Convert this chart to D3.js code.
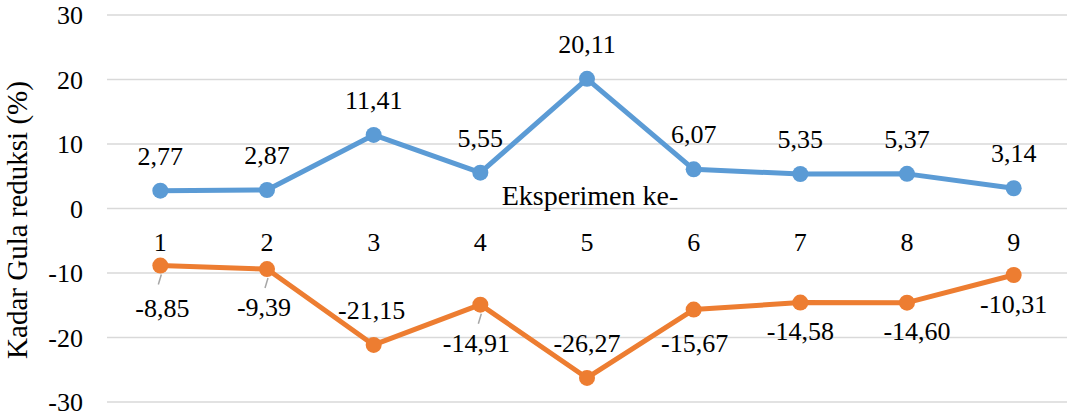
<!DOCTYPE html>
<html>
<head>
<meta charset="utf-8">
<script src="https://cdn.jsdelivr.net/npm/d3@7"></script>
<style>
  body { margin: 0; background: #fff; }
</style>
</head>
<body>
<svg id="chart" width="1092" height="416" font-family="'Liberation Serif', 'DejaVu Serif', serif"></svg>
<script>

var experiments = ["1", "2", "3", "4", "5", "6", "7", "8", "9"]
var increase = [2.77, 2.87, 11.41, 5.55, 20.11, 6.07, 5.35, 5.37, 3.14]
var decrease = [-8.85, -9.39, -21.15, -14.91, -26.27, -15.67, -14.58, -14.60, -10.31]
var yTicks = [-30, -20, -10, 0, 10, 20, 30]

// hand-moved label offsets for the orange series (px from the marker), as in the original
var decreaseLabelDx = [2, -3, -2, -4, 0, 1, 0, 10, 0]
var decreaseLabelDy = [42, 38, -35, 38, -35, 33, 28, 28, 29]
var decreaseLeader = [true, true, false, true, false, false, false, false, false]

var svg = d3.select("#chart")
// note: "top" is taken by window.top, so use plot_* names
var plot_left = 107, plot_right = 1067, plot_top = 15, plot_bottom = 402

var x = d3.scaleBand().domain(experiments).range([plot_left, plot_right])
var y = d3.scaleLinear().domain([-30, 30]).range([plot_bottom, plot_top])
var cx = function(d, i){ return x(experiments[i]) + x.bandwidth() / 2 }

// gridlines
svg.append("g").selectAll("line")
    .data(yTicks)
  .enter().append("line")
    .attr("x1", plot_left).attr("x2", plot_right)
    .attr("y1", function(d){ return y(d) }).attr("y2", function(d){ return y(d) })
    .style("stroke", "#d9d9d9").style("stroke-width", 1.5)

// y axis labels
svg.append("g").selectAll("text")
    .data(yTicks)
  .enter().append("text")
    .attr("x", 83).attr("y", function(d){ return y(d) })
    .attr("dy", "0.35em")
    .attr("text-anchor", "end")
    .style("font-size", "26px")
    .text(function(d){ return d })

// category labels sit just under the zero line
svg.append("g").selectAll("text")
    .data(experiments)
  .enter().append("text")
    .attr("x", function(d){ return x(d) + x.bandwidth() / 2 })
    .attr("y", y(0) + 33)
    .attr("dy", "0.35em")
    .attr("text-anchor", "middle")
    .style("font-size", "26px")
    .text(function(d){ return d })

svg.append("text")
    .attr("x", 590).attr("y", 205)
    .attr("text-anchor", "middle")
    .style("font-size", "28px")
    .text("Eksperimen ke-")

svg.append("text")
    .attr("transform", "translate(27,220) rotate(-90)")
    .attr("text-anchor", "middle")
    .style("font-size", "29px")
    .text("Kadar Gula reduksi (%)")

var fmt = function(v){ return v.toFixed(2).replace(".", ",") }

function drawSeries(values, color){
  var line = d3.line()
      .x(cx)
      .y(function(d){ return y(d) })
  svg.append("path")
      .datum(values)
      .attr("d", line)
      .style("fill", "none")
      .style("stroke", color)
      .style("stroke-width", 5)
      .style("stroke-linejoin", "round")
  svg.append("g").selectAll("circle")
      .data(values)
    .enter().append("circle")
      .attr("cx", cx)
      .attr("cy", function(d){ return y(d) })
      .attr("r", 8)
      .style("fill", color)
}

drawSeries(increase, "#5b9bd5")
drawSeries(decrease, "#ed7d31")

// leader lines for the orange labels that were dragged away
// (filter on indices first, filter() on a selection renumbers i)
var leaderIdx = d3.range(decrease.length).filter(function(i){ return decreaseLeader[i] })
svg.append("g").selectAll("line")
    .data(leaderIdx)
  .enter().append("line")
    .attr("x1", function(i){ return cx(decrease[i], i) + 1 })
    .attr("y1", function(i){ return y(decrease[i]) + 9 })
    .attr("x2", function(i){ return cx(decrease[i], i) - 2 })
    .attr("y2", function(i){ return y(decrease[i]) + 19 })
    .style("stroke", "#a6a6a6").style("stroke-width", 1.5)

// data labels
svg.append("g").selectAll("text")
    .data(increase)
  .enter().append("text")
    .attr("x", cx)
    .attr("y", function(d){ return y(d) - 35 })
    .attr("dy", "0.35em")
    .attr("text-anchor", "middle")
    .style("font-size", "26px")
    .text(fmt)

svg.append("g").selectAll("text")
    .data(decrease)
  .enter().append("text")
    .attr("x", function(d, i){ return cx(d, i) + decreaseLabelDx[i] })
    .attr("y", function(d, i){ return y(d) + decreaseLabelDy[i] })
    .attr("dy", "0.35em")
    .attr("text-anchor", "middle")
    .style("font-size", "26px")
    .text(fmt)

</script>
</body>
</html>
